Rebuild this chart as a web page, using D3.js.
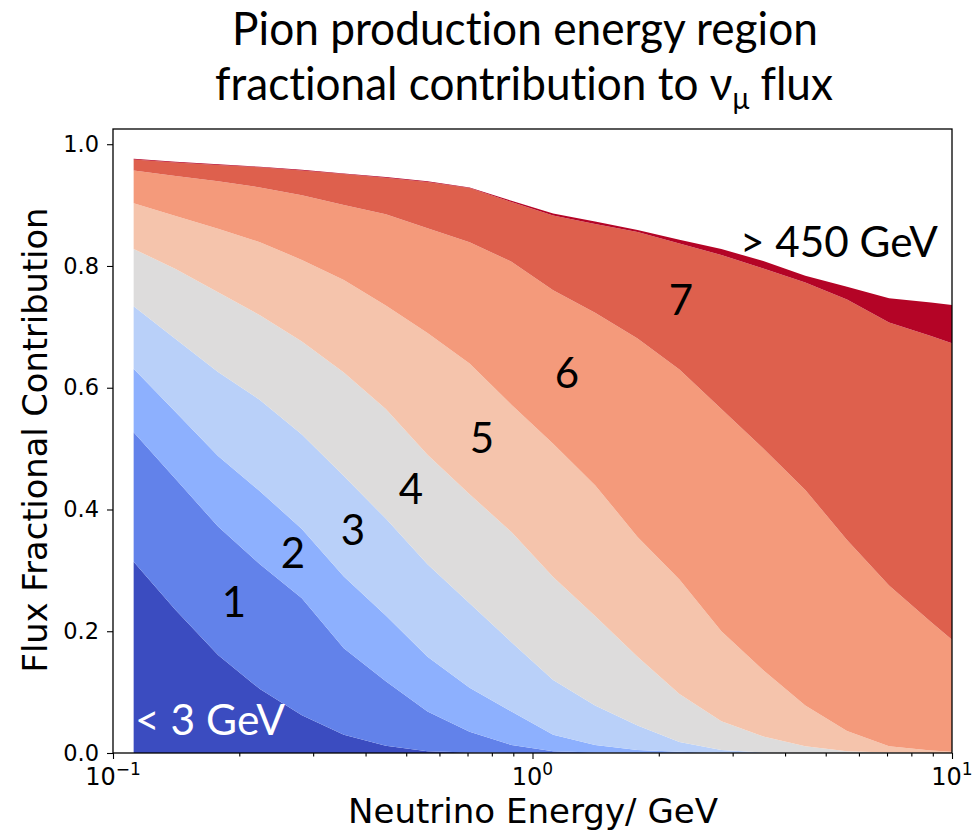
<!DOCTYPE html>
<html>
<head>
<meta charset="utf-8">
<script src="https://cdn.jsdelivr.net/npm/d3@7"></script>
<style>
  body { margin: 0; background: #fff; }
  text { font-variant-ligatures: none; }
</style>
</head>
<body>
<svg id="chart" width="972" height="832"></svg>
<script>
// neutrino energy bin centres (GeV)
const energy = [0.112, 0.141, 0.178, 0.224, 0.282, 0.355, 0.447, 0.562, 0.708, 0.891,
                1.12, 1.41, 1.78, 2.24, 2.82, 3.55, 4.47, 5.62, 7.08, 8.91, 10];

// cumulative upper edge of each pion-energy region
const edgeBelow3 = [0.314, 0.235, 0.161, 0.105, 0.062, 0.030, 0.012, 0.003, 0.001, 0, 0, 0, 0, 0, 0, 0, 0, 0, 0, 0, 0];
const edgeRegion1 = [0.527, 0.450, 0.372, 0.310, 0.254, 0.172, 0.118, 0.068, 0.035, 0.013, 0.003, 0.001, 0, 0, 0, 0, 0, 0, 0, 0, 0];
const edgeRegion2 = [0.631, 0.560, 0.488, 0.430, 0.368, 0.290, 0.226, 0.158, 0.107, 0.068, 0.030, 0.013, 0.005, 0.002, 0, 0, 0, 0, 0, 0, 0];
const edgeRegion3 = [0.734, 0.680, 0.626, 0.580, 0.523, 0.455, 0.385, 0.310, 0.246, 0.182, 0.120, 0.078, 0.045, 0.018, 0.005, 0.001, 0, 0, 0, 0, 0];
const edgeRegion4 = [0.828, 0.795, 0.757, 0.719, 0.676, 0.625, 0.565, 0.490, 0.425, 0.363, 0.289, 0.225, 0.158, 0.097, 0.052, 0.027, 0.011, 0.003, 0.001, 0, 0];
const edgeRegion5 = [0.903, 0.882, 0.861, 0.839, 0.810, 0.777, 0.735, 0.690, 0.640, 0.572, 0.508, 0.440, 0.355, 0.285, 0.200, 0.136, 0.078, 0.036, 0.011, 0.004, 0.002];
const edgeRegion6 = [0.957, 0.948, 0.939, 0.929, 0.916, 0.900, 0.885, 0.862, 0.839, 0.807, 0.760, 0.723, 0.681, 0.630, 0.565, 0.500, 0.432, 0.350, 0.275, 0.215, 0.186];
const edgeRegion7 = [0.975, 0.970, 0.966, 0.962, 0.957, 0.951, 0.945, 0.938, 0.928, 0.905, 0.883, 0.869, 0.856, 0.837, 0.818, 0.796, 0.773, 0.745, 0.707, 0.685, 0.673];
const edgeAbove450 = [0.976, 0.971, 0.967, 0.963, 0.958, 0.952, 0.946, 0.939, 0.929, 0.907, 0.886, 0.873, 0.859, 0.843, 0.828, 0.808, 0.784, 0.766, 0.747, 0.740, 0.736];

const regionLabels = ["< 3 GeV", "1", "2", "3", "4", "5", "6", "7", "> 450 GeV"];
const regionColors = ["#3b4cc0", "#6282ea", "#8db0fe", "#b9d0f9", "#dddcdc",
                      "#f5c4ac", "#f49a7b", "#de604d", "#b40426"];

const yTicks = [0, 0.2, 0.4, 0.6, 0.8, 1.0];
const xMajorTicks = [0.1, 1, 10];
const xTickExponents = ["\u22121", "0", "1"];
const xMinorTicks = [0.2, 0.3, 0.4, 0.5, 0.6, 0.7, 0.8, 0.9, 2, 3, 4, 5, 6, 7, 8, 9];

const svg = d3.select("#chart");
const plot = { left: 113, right: 952, top: 129, bottom: 753 };

const x = d3.scaleLog().domain([0.1, 10]).range([plot.left, plot.right]);
const y = d3.scaleLinear().domain([0, 1.025]).range([plot.bottom, plot.top]);

// stacked regions
const edges = [edgeBelow3, edgeRegion1, edgeRegion2, edgeRegion3, edgeRegion4,
               edgeRegion5, edgeRegion6, edgeRegion7, edgeAbove450];

const area = d3.area()
  .x(d => x(d.e))
  .y0(d => y(d.lo))
  .y1(d => y(d.hi));

edges.forEach((edge, k) => {
  const pts = edge.map((v, i) => ({ e: energy[i], lo: k === 0 ? 0 : edges[k - 1][i], hi: v }));
  svg.append("path")
    .attr("d", area(pts))
    .attr("fill", regionColors[k]);
});

// axes
const tickFont = "'DejaVu Sans', sans-serif";

const gx = svg.append("g").attr("transform", `translate(0,${plot.bottom})`);
gx.call(d3.axisBottom(x).tickValues(xMajorTicks).tickSize(6).tickFormat(""));
gx.append("g").call(d3.axisBottom(x).tickValues(xMinorTicks).tickSize(3.5).tickFormat(""));
gx.selectAll(".domain").remove();
gx.selectAll("line").attr("stroke", "#000").attr("stroke-width", 1.1);

xMajorTicks.forEach((v, i) => {
  const t = svg.append("text")
    .attr("x", x(v))
    .attr("y", 785)
    .attr("text-anchor", "middle")
    .attr("font-family", tickFont)
    .attr("font-size", 24)
    .attr("fill", "#000");
  t.append("tspan").text("10");
  t.append("tspan").attr("dy", -10).attr("font-size", 17).text(xTickExponents[i]);
});

const gy = svg.append("g").attr("transform", `translate(${plot.left},0)`);
gy.call(d3.axisLeft(y).tickValues(yTicks).tickSize(6).tickPadding(8).tickFormat(d3.format(".1f")));
gy.selectAll(".domain").remove();
gy.selectAll("line").attr("stroke", "#000").attr("stroke-width", 1.1);
gy.selectAll("text")
  .attr("font-family", tickFont)
  .attr("font-size", 22.5)
  .attr("fill", "#000");

// frame
svg.append("rect")
  .attr("x", plot.left).attr("y", plot.top)
  .attr("width", plot.right - plot.left).attr("height", plot.bottom - plot.top)
  .attr("fill", "none")
  .attr("stroke", "#000")
  .attr("stroke-width", 1.3);

// text helper: squeeze text horizontally to a target width
function label(parts, cx, baseline, opts) {
  const g = svg.append("g");
  const t = g.append("text")
    .attr("text-anchor", opts.anchor || "middle")
    .attr("font-family", opts.family)
    .attr("font-size", opts.size)
    .attr("fill", opts.fill || "#000");
  parts.forEach(p => {
    const s = t.append("tspan").text(p.text);
    if (p.dy) s.attr("dy", p.dy);
    if (p.size) s.attr("font-size", p.size);
  });
  let sx = 1;
  if (opts.width) sx = opts.width / t.node().getComputedTextLength();
  const rot = opts.rotate ? ` rotate(${opts.rotate})` : "";
  g.attr("transform", `translate(${cx},${baseline})${rot} scale(${sx},1)`);
  return t;
}

const calibri = "Lato, 'Open Sans', sans-serif";

// title
label([{ text: "Pion production energy region" }], 525, 45, { family: calibri, size: 47, width: 586 });
label([
  { text: "fractional contribution to \u03bd" },
  { text: "\u03bc", size: 30, dy: 9 },
  { text: " flux", dy: -9 }
], 524, 100, { family: calibri, size: 47, width: 618 });

// axis titles
label([{ text: "Flux Fractional Contribution" }], 47, 440, { family: tickFont, size: 34, width: 465, rotate: -90 });
label([{ text: "Neutrino Energy/ GeV" }], 533, 823, { family: tickFont, size: 33, width: 370 });

// region annotations
const annotX = [0, 234, 293, 353, 411, 482, 567, 681, 0];
const annotY = [0, 617, 568, 545, 504, 453, 388, 315, 0];
label([{ text: regionLabels[0] }], 135, 735, { family: calibri, size: 42, width: 150, anchor: "start", fill: "#fff" });
for (let k = 1; k <= 7; k++) {
  label([{ text: regionLabels[k] }], annotX[k], annotY[k], { family: calibri, size: 42 });
}
label([{ text: regionLabels[8] }], 740, 257, { family: calibri, size: 42, width: 198, anchor: "start" });
</script>
</body>
</html>
